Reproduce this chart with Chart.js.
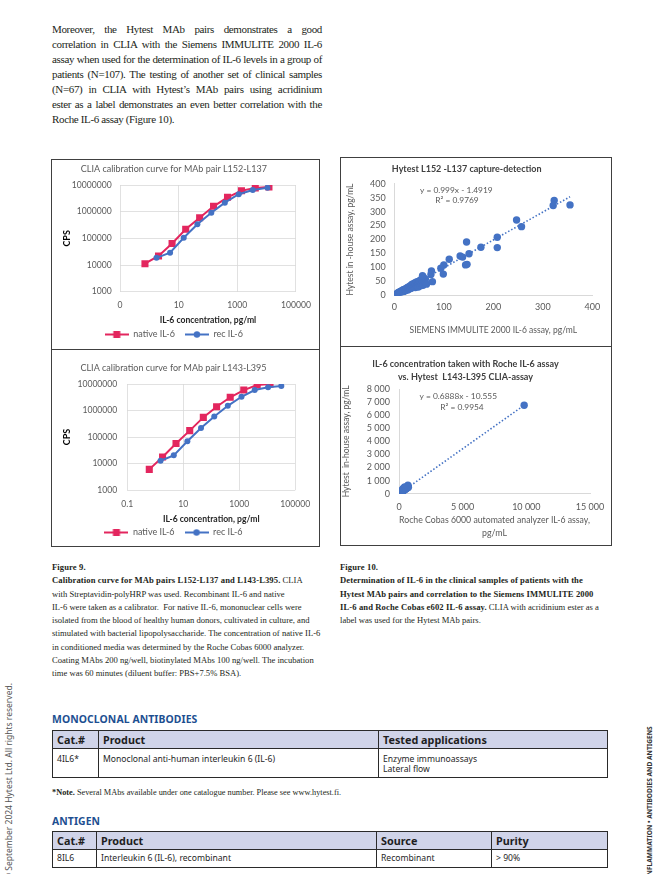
<!DOCTYPE html>
<html>
<head>
<meta charset="utf-8">
<script src="https://cdn.jsdelivr.net/npm/chart.js@4.4.1/dist/chart.umd.min.js"></script>
<style>
  html, body { margin: 0; padding: 0; background: #fff; }
  body { width: 665px; height: 874px; position: relative; overflow: hidden; font-family: "Liberation Serif", serif; color: #231f20; }
  .para { position: absolute; left: 52px; top: 21.5px; width: 270px; font-size: 11px; line-height: 15px; letter-spacing: -0.35px; }
  .para div { text-align: justify; text-align-last: justify; white-space: nowrap; }
  .para div.last { text-align-last: left; }
  .box { position: absolute; border: 1px solid #404040; box-sizing: border-box; }
  .hline { position: absolute; height: 1px; background: #404040; }
  canvas { position: absolute; }
  .cap { position: absolute; top: 561px; font-size: 8.6px; line-height: 13.3px; white-space: nowrap; }
  .cap b { font-weight: 700; letter-spacing: 0.1px; }
  .head { position: absolute; left: 52px; font: 700 10.4px "Noto Sans", sans-serif; color: #1d4f91; letter-spacing: 0.1px; }
  table { position: absolute; left: 52px; width: 555px; border-collapse: collapse; table-layout: fixed; font-family: "Noto Sans", sans-serif; color: #1e1e1e; }
  th, td { border: 1.2px solid #2a2a2a; padding: 0 0 0 4px; text-align: left; }
  th { background: #d0d4e9; font-size: 10.8px; font-weight: 700; height: 17px; line-height: 17px; }
  td { font-size: 8.6px; line-height: 10.7px; }
  .t1 td { vertical-align: top; padding-top: 4.5px; height: 23px; }
  .t2 td { vertical-align: middle; height: 16.5px; }
  .note { position: absolute; left: 52px; top: 788px; font-size: 8.3px; white-space: nowrap; }
  .side-l { position: absolute; left: 3px; top: 880px; transform-origin: 0 0; transform: rotate(-90deg); font: 8.5px "Noto Sans", sans-serif; color: #555; white-space: nowrap; line-height: 11px; }
  .side-r { position: absolute; left: 646px; top: 878px; transform-origin: 0 0; transform: rotate(-90deg); font: 700 6.6px "Noto Sans", sans-serif; color: #333; white-space: nowrap; line-height: 8px; }
</style>
</head>
<body>

<div class="para">
  <div>Moreover, the Hytest MAb pairs demonstrates a good</div>
  <div>correlation in CLIA with the Siemens IMMULITE 2000 IL-6</div>
  <div>assay when used for the determination of IL-6 levels in a group of</div>
  <div>patients (N=107). The testing of another set of clinical samples</div>
  <div>(N=67) in CLIA with Hytest’s MAb pairs using acridinium</div>
  <div>ester as a label demonstrates an even better correlation with the</div>
  <div class="last">Roche IL-6 assay (Figure 10).</div>
</div>

<div class="box" style="left:50.5px; top:158.5px; width:269.5px; height:388.5px;"></div>
<div class="hline" style="left:50.5px; top:349px; width:269.5px;"></div>
<div class="box" style="left:340px; top:157px; width:272px; height:388.5px;"></div>
<div class="hline" style="left:340px; top:346px; width:272px;"></div>

<canvas id="calibA" width="268" height="190" style="left:51px; top:159px; width:268px; height:190px;"></canvas>
<canvas id="calibB" width="268" height="197" style="left:51px; top:350px; width:268px; height:197px;"></canvas>
<canvas id="corrC" width="271" height="188" style="left:341px; top:158px; width:271px; height:188px;"></canvas>
<canvas id="corrD" width="271" height="198" style="left:341px; top:347px; width:271px; height:198px;"></canvas>

<div class="cap" style="left:52px;">
  <b>Figure 9.</b><br>
  <b>Calibration curve for MAb pairs L152-L137 and L143-L395.</b> CLIA<br>
  with Streptavidin-polyHRP was used. Recombinant IL-6 and native<br>
  IL-6 were taken as a calibrator.&nbsp; For native IL-6, mononuclear cells were<br>
  isolated from the blood of healthy human donors, cultivated in culture, and<br>
  stimulated with bacterial lipopolysaccharide. The concentration of native IL-6<br>
  in conditioned media was determined by the Roche Cobas 6000 analyzer.<br>
  Coating MAbs 200 ng/well, biotinylated MAbs 100 ng/well. The incubation<br>
  time was 60 minutes (diluent buffer: PBS+7.5% BSA).
</div>

<div class="cap" style="left:340px;">
  <b>Figure 10.</b><br>
  <b>Determination of IL-6 in the clinical samples of patients with the</b><br>
  <b>Hytest MAb pairs and correlation to the Siemens IMMULITE 2000</b><br>
  <b>IL-6 and Roche Cobas e602 IL-6 assay.</b> CLIA with acridinium ester as a<br>
  label was used for the Hytest MAb pairs.
</div>

<div class="head" style="top:712px;">MONOCLONAL ANTIBODIES</div>
<table class="t1" style="top:730px;">
  <colgroup><col style="width:46px"><col style="width:280px"><col style="width:229px"></colgroup>
  <tr><th>Cat.#</th><th>Product</th><th>Tested applications</th></tr>
  <tr><td>4IL6*</td><td>Monoclonal anti-human interleukin 6 (IL-6)</td><td>Enzyme immunoassays<br>Lateral flow</td></tr>
</table>

<div class="note"><b>*Note.</b> Several MAbs available under one catalogue number. Please see www.hytest.fi.</div>

<div class="head" style="top:814px;">ANTIGEN</div>
<table class="t2" style="top:831px;">
  <colgroup><col style="width:44px"><col style="width:280px"><col style="width:115px"><col style="width:116px"></colgroup>
  <tr><th>Cat.#</th><th>Product</th><th>Source</th><th>Purity</th></tr>
  <tr><td>8IL6</td><td>Interleukin 6 (IL-6), recombinant</td><td>Recombinant</td><td>&gt; 90%</td></tr>
</table>

<div class="side-l">© September 2024 Hytest Ltd. All rights reserved.</div>
<div class="side-r">INFLAMMATION • ANTIBODIES AND ANTIGENS</div>

<script>
// calibration curves, pair L152-L137
const l152NativeConc = [0.71, 2.06, 5.97, 17.4, 52, 155, 464, 1385, 4100, 12000];
const l152NativeCps = [11200, 21900, 64000, 219000, 590000, 1590000, 3460000, 6100000, 7800000, 8500000];
const l152RecConc = [1.76, 5.1, 14.9, 43.5, 130, 376, 1120, 3360, 10700];
const l152RecCps = [18600, 28900, 105000, 340000, 910000, 2170000, 4500000, 6500000, 7900000];

// calibration curves, pair L143-L395
const l143NativeConc = [0.61, 1.82, 5.5, 17, 52, 155, 475, 1450, 4370, 12600];
const l143NativeCps = [6000, 17700, 57000, 174000, 550000, 1390000, 3150000, 5900000, 9200000, 10000000];
const l143RecConc = [1.54, 4.57, 14, 43, 128, 390, 1200, 3560, 10700, 31800];
const l143RecCps = [12700, 20300, 69000, 218000, 590000, 1500000, 3300000, 5900000, 7500000, 8400000];

const calibXTicks = [0.1, 10, 1000, 100000];
const calibXLabelsA = ['0', '10', '1000', '100000'];
const calibXLabelsB = ['0.1', '10', '1000', '100000'];
const cpsTicks = [1000, 10000, 100000, 1000000, 10000000];
const cpsLabels = ['1000', '10000', '100000', '1000000', '10000000'];

// Siemens IMMULITE 2000 vs Hytest L152-L137 (N=107)
const siemensX = [
  0.5, 1, 1.5, 2, 2.5, 3, 3.5, 4, 4.5, 5, 5.5, 6, 6.5, 7, 7.5, 8, 8.5, 9, 10, 10.5,
  11, 12, 12.5, 13, 14, 14.5, 15, 16, 16.5, 17, 18, 18.5, 19, 20, 21, 21.5, 22, 23, 24, 24.5,
  25, 26, 27, 27.5, 28, 29, 30, 31, 31.5, 32, 33, 34, 35, 35.5, 36, 37, 38, 38.5, 39, 40,
  41, 42, 42.5, 43, 44, 45, 46, 47, 48, 48.5, 49, 50, 51, 52, 53, 54, 55, 56, 57, 58,
  59, 60, 62, 63, 65,
  323, 321, 355, 247, 257, 208, 208, 175, 146, 151, 133, 138, 147, 144, 111, 100, 94, 99, 75, 74, 77, 57
];
const hytestC = [
  1, 0.5, 2, 3, 1.5, 2.5, 4, 3, 5, 4, 6, 5, 4.5, 8, 6, 7, 10, 8, 9, 12,
  8, 11, 14, 10, 13, 16, 12, 15, 18, 13, 17, 20, 14, 19, 22, 16, 21, 18, 25, 20,
  23, 27, 19, 24, 29, 22, 26, 33, 25, 28, 24, 36, 30, 27, 40, 32, 29, 35, 42, 31,
  37, 45, 28, 39, 33, 48, 36, 41, 50, 30, 44, 38, 52, 46, 34, 55, 42, 60, 48, 36,
  64, 50, 44, 58, 40,
  340, 322, 324, 270, 246, 208, 171, 172, 191, 149, 141, 137, 111, 109, 129, 109, 97, 76, 87, 75, 49, 70
];
const trendC = [0.999, -1.4919];
const trendRangeC = [2, 355];

// Roche Cobas 6000 vs Hytest L143-L395 (N=67)
const rocheX = [
  2, 5, 8, 10, 12, 15, 18, 20, 22, 25, 28, 30, 33, 35, 38, 40, 45, 48, 50, 55,
  60, 65, 70, 75, 80, 85, 90, 95, 100, 110, 120, 130, 140, 150, 160, 170, 180, 190, 200, 215,
  230, 245, 260, 280, 300, 320, 340, 360, 380, 400, 430, 460, 500, 540, 580, 620, 660, 700, 740, 30,
  60, 90, 150, 250, 350, 450, 9830
];
const hytestD = [
  3, 2, 6, 7, 9, 11, 10, 16, 14, 18, 20, 17, 25, 22, 28, 26, 33, 30, 36, 35,
  45, 40, 52, 48, 55, 60, 58, 66, 62, 75, 80, 90, 95, 105, 110, 120, 118, 135, 140, 150,
  160, 170, 175, 195, 210, 220, 235, 250, 265, 280, 300, 320, 345, 370, 400, 430, 460, 650, 500, 45,
  70, 110, 170, 300, 420, 520, 6760
];
const trendD = [0.6888, -10.555];
const trendRangeD = [0, 9830];

const PINK = '#e3265e';
const BLUE = '#4472c4';
const GRID = '#d9d9d9';
const TICK = '#595959';
Chart.defaults.font.family = 'Lato';

const pairs = (xs, ys) => xs.map((x, i) => ({ x: x, y: ys[i] }));
const trend = (coef, range) => range.map(x => ({ x: x, y: coef[0] * x + coef[1] }));
const spaced = v => String(v).replace(/\B(?=(\d{3})+(?!\d))/g, ' ');

function lineIcon(color, shape) {
  const c = document.createElement('canvas');
  c.width = 24; c.height = 9;
  const g = c.getContext('2d');
  g.strokeStyle = color; g.lineWidth = 2;
  g.beginPath(); g.moveTo(0, 4.5); g.lineTo(24, 4.5); g.stroke();
  g.fillStyle = color;
  if (shape === 'rect') {
    g.fillRect(8.5, 1, 7, 7);
  } else {
    g.beginPath(); g.arc(12, 4.5, 3.2, 0, Math.PI * 2); g.fill();
  }
  return c;
}
const icons = [lineIcon(PINK, 'rect'), lineIcon(BLUE, 'circle')];

// regression equation text
Chart.register({
  id: 'eqText',
  afterDatasetsDraw(chart, args, opts) {
    if (!opts || !opts.lines) return;
    const ctx = chart.ctx;
    ctx.save();
    ctx.font = '8.4px Lato';
    ctx.fillStyle = '#595959';
    ctx.textAlign = 'center';
    ctx.textBaseline = 'middle';
    opts.lines.forEach(l => ctx.fillText(l.text, l.x, l.y));
    ctx.restore();
  }
});

function calibChart(id, natX, natY, recX, recY, xLabels, lay) {
  new Chart(document.getElementById(id), {
    type: 'line',
    data: {
      datasets: [{
        label: 'native IL-6',
        data: pairs(natX, natY),
        borderColor: PINK,
        backgroundColor: PINK,
        pointStyle: 'rect',
        pointRadius: 5,
        pointBorderWidth: 0,
        borderWidth: 2,
        order: 1
      }, {
        label: 'rec IL-6',
        data: pairs(recX, recY),
        borderColor: BLUE,
        backgroundColor: BLUE,
        pointStyle: 'circle',
        pointRadius: 3,
        pointBorderWidth: 0,
        borderWidth: 2,
        order: 0
      }]
    },
    options: {
      responsive: false,
      animation: false,
      layout: { padding: { left: 0, right: lay.padRight, top: 0, bottom: 0 } },
      plugins: {
        title: {
          display: true,
          text: lay.title,
          color: TICK,
          font: { size: 9, weight: 'normal' },
          padding: { top: lay.titleTop, bottom: lay.titleBottom }
        },
        legend: {
          position: 'bottom',
          labels: {
            usePointStyle: true,
            pointStyleWidth: 24,
            padding: 10,
            color: TICK,
            font: { size: 9 },
            sort: (a, b) => a.datasetIndex - b.datasetIndex,
            generateLabels: ch => Chart.defaults.plugins.legend.labels.generateLabels(ch)
              .map(it => Object.assign(it, { pointStyle: icons[it.datasetIndex] }))
          }
        },
        tooltip: { enabled: false }
      },
      scales: {
        x: {
          type: 'logarithmic',
          min: 0.1,
          max: 100000,
          afterBuildTicks: s => { s.ticks = calibXTicks.map(v => ({ value: v })); },
          afterFit: s => { s.height = lay.xH; },
          grid: { color: GRID, lineWidth: 0.8, drawTicks: false },
          border: { display: false },
          ticks: {
            autoSkip: false, maxRotation: 0, padding: lay.xTickPad,
            color: TICK, font: { size: 8.6 },
            callback: (v, i) => xLabels[i]
          },
          title: {
            display: true,
            text: 'IL-6 concentration, pg/ml',
            color: '#262626',
            font: { size: 8.6, weight: 'bold' },
            padding: { top: 0, bottom: lay.xTitlePad }
          }
        },
        y: {
          type: 'logarithmic',
          min: 1000,
          max: 10000000,
          afterBuildTicks: s => { s.ticks = cpsTicks.map(v => ({ value: v })); },
          afterFit: s => { s.width = lay.yW; },
          grid: { color: GRID, lineWidth: 0.8, drawTicks: false },
          border: { display: false },
          ticks: {
            autoSkip: false, padding: lay.yTickPad, color: TICK, font: { size: 8.6 },
            callback: (v, i) => cpsLabels[i]
          },
          title: {
            display: true,
            text: 'CPS',
            color: '#000',
            font: { size: 9, weight: 'bold' },
            padding: { top: lay.yTitlePad, bottom: 0 }
          }
        }
      }
    }
  });
}

calibChart('calibA', l152NativeConc, l152NativeCps, l152RecConc, l152RecCps, calibXLabelsA, {
  title: 'CLIA calibration curve for MAb pair L152-L137',
  titleTop: 4.6, titleBottom: 10.6, padRight: 22.3,
  xH: 28.3, xTickPad: 8.1, xTitlePad: -5.4,
  yW: 69, yTickPad: 8.3, yTitlePad: 10.3
});

calibChart('calibB', l143NativeConc, l143NativeCps, l143RecConc, l143RecCps, calibXLabelsB, {
  title: 'CLIA calibration curve for MAb pair L143-L395',
  titleTop: 12.6, titleBottom: 10.6, padRight: 23,
  xH: 28, xTickPad: 8.8, xTitlePad: -6.4,
  yW: 76.3, yTickPad: 10, yTitlePad: 10.3
});

function corrChart(id, xs, ys, coef, range, lay) {
  new Chart(document.getElementById(id), {
    type: 'scatter',
    data: {
      datasets: [{
        type: 'line',
        label: 'trend',
        data: trend(coef, range),
        borderColor: BLUE,
        borderWidth: 1.6,
        borderDash: [1.5, 2],
        pointRadius: 0,
        fill: false,
        order: 0
      }, {
        label: 'samples',
        data: pairs(xs, ys),
        backgroundColor: BLUE,
        pointRadius: 3.7,
        pointBorderWidth: 0,
        order: 1
      }]
    },
    options: {
      responsive: false,
      animation: false,
      layout: { padding: { left: 0, right: lay.padRight, top: 0, bottom: 0 } },
      plugins: {
        title: {
          display: true,
          text: lay.title,
          color: '#404040',
          font: { size: 9, weight: 'bold', lineHeight: lay.titleLH },
          padding: { top: lay.titleTop, bottom: lay.titleBottom }
        },
        legend: { display: false },
        tooltip: { enabled: false },
        eqText: { lines: lay.eq }
      },
      scales: {
        x: {
          type: 'linear',
          min: 0,
          max: lay.xMax,
          afterFit: s => { s.height = lay.xH; },
          grid: { display: false, drawTicks: false },
          border: { display: true, color: GRID, width: 1 },
          ticks: {
            stepSize: lay.xStep, padding: lay.xTickPad, color: TICK, font: { size: 9 },
            autoSkip: false, maxRotation: 0, callback: v => lay.fmt(v)
          },
          title: {
            display: true,
            text: lay.xTitle,
            color: TICK,
            font: { size: lay.xTitleSize, lineHeight: lay.xTitleLH },
            padding: { top: 0, bottom: lay.xTitlePad }
          }
        },
        y: {
          type: 'linear',
          min: 0,
          max: lay.yMax,
          afterFit: s => { s.width = lay.yW; },
          grid: { display: false, drawTicks: false },
          border: { display: true, color: GRID, width: 1 },
          ticks: {
            stepSize: lay.yStep, padding: lay.yTickPad, color: TICK, font: { size: 9 },
            autoSkip: false, callback: v => lay.fmt(v)
          },
          title: {
            display: true,
            text: lay.yTitle,
            color: TICK,
            font: { size: 8.5 },
            padding: { top: lay.yTitlePad, bottom: 0 }
          }
        }
      }
    }
  });
}

corrChart('corrC', siemensX, hytestC, trendC, trendRangeC, {
  title: 'Hytest L152 -L137 capture-detection',
  titleLH: 1.2, titleTop: 5.6, titleBottom: 9.3, padRight: 19.7,
  xMax: 400, xStep: 100, yMax: 400, yStep: 50, fmt: v => String(v),
  xH: 50.7, xTickPad: 6, xTitle: 'SIEMENS IMMULITE 2000 IL-6 assay, pg/mL',
  xTitleSize: 8.5, xTitleLH: 1.2, xTitlePad: 10.9,
  yW: 53.3, yTickPad: 8.6, yTitle: 'Hytest in -house assay, pg/mL', yTitlePad: 3.9,
  eq: [{ text: 'y = 0.999x - 1.4919', x: 115.3, y: 32.7 }, { text: 'R² = 0.9769', x: 116, y: 42.7 }]
});

corrChart('corrD', rocheX, hytestD, trendD, trendRangeD, {
  title: ['IL-6 concentration taken with Roche IL-6 assay', 'vs. Hytest  L143-L395 CLIA-assay'],
  titleLH: 1.478, titleTop: 10.35, titleBottom: 5.05, padRight: 22,
  xMax: 15000, xStep: 5000, yMax: 8000, yStep: 1000, fmt: spaced,
  xH: 51.3, xTickPad: 7.6, xTitle: ['Roche Cobas 6000 automated analyzer IL-6 assay,', 'pg/mL'],
  xTitleSize: 8.8, xTitleLH: 1.511, xTitlePad: 5.05,
  yW: 58, yTickPad: 9, yTitle: 'Hytest  in-house assay, pg/mL', yTitlePad: 0.6,
  eq: [{ text: 'y = 0.6888x - 10.555', x: 117.3, y: 49.7 }, { text: 'R² = 0.9954', x: 121, y: 60.7 }]
});
</script>
</body>
</html>
